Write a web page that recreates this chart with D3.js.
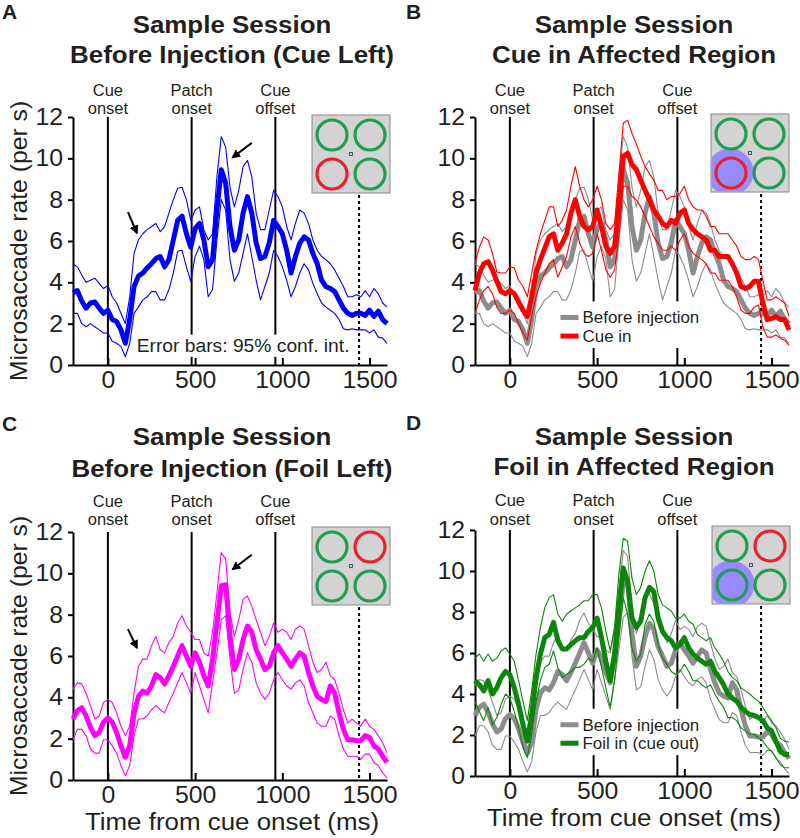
<!DOCTYPE html>
<html>
<head>
<meta charset="utf-8">
<script src="https://cdn.jsdelivr.net/npm/d3@7"></script>
<style>
  body { margin: 0; background: #fff; }
  text { font-family: "Liberation Sans", Arial, Helvetica, sans-serif; fill: #231f20; }
</style>
</head>
<body>
<script>
// time axis samples (ms from cue onset)
const times = [
  -200, -175, -150, -125, -100, -75, -50, -25,
  0, 25, 50, 75, 100, 125, 150, 175,
  200, 225, 250, 275, 300, 325, 350, 375,
  400, 425, 450, 475, 500, 525, 550, 575,
  600, 625, 650, 675, 700, 725, 750, 775,
  800, 825, 850, 875, 900, 925, 950, 975,
  1000, 1025, 1050, 1075, 1100, 1125, 1150, 1175,
  1200, 1225, 1250, 1275, 1300, 1325, 1350, 1375,
  1400, 1425, 1450, 1475, 1500, 1525, 1550, 1575,
  1600
];

// before injection, cue left (A, grey in B)
const cueBeforeMean = [
  3.5, 3.6, 3.1, 2.75, 3.0, 3.05, 2.75, 2.5,
  2.65, 2.2, 2.1, 1.7, 1.05, 2.2, 3.8, 4.3,
  4.45, 4.7, 4.9, 5.15, 5.25, 4.75, 5.1, 6.05,
  7.0, 7.2, 6.35, 5.7, 6.6, 6.85, 6.05, 4.75,
  5.1, 7.5, 9.45, 8.8, 6.7, 5.55, 6.05, 7.35,
  8.15, 7.35, 5.9, 5.15, 5.25, 5.9, 7.0, 6.7,
  6.35, 5.55, 4.45, 5.25, 5.9, 6.2, 6.05, 5.4,
  4.9, 4.1, 3.8, 3.7, 3.55, 3.15, 2.75, 2.5,
  2.4, 2.5, 2.5, 2.4, 2.65, 2.35, 2.6, 2.2,
  2.0
];
const cueBeforeUp = [
  4.9, 4.75, 4.35, 4.0, 4.1, 4.2, 3.95, 3.7,
  3.85, 3.3, 3.0, 2.5, 2.0, 3.3, 5.4, 6.05,
  6.35, 6.55, 6.7, 6.85, 6.45, 6.7, 7.35, 8.0,
  8.55, 8.6, 8.0, 7.0, 7.5, 7.65, 6.55, 6.05,
  6.35, 9.1, 11.05, 10.55, 8.6, 7.65, 8.45, 9.6,
  9.9, 9.1, 7.35, 6.55, 6.55, 7.5, 8.45, 8.15,
  7.65, 6.7, 6.05, 6.85, 7.5, 7.35, 6.85, 6.05,
  5.55, 5.25, 5.1, 4.9, 4.6, 4.2, 3.8, 3.3,
  3.3, 3.4, 3.3, 3.6, 3.3, 3.7, 3.45, 3.0,
  2.8
];
const cueBeforeLo = [
  2.5, 2.5, 2.0, 1.85, 2.0, 1.85, 1.7, 1.55,
  1.55, 1.15, 1.05, 0.9, 0.4, 1.05, 2.5, 2.8,
  3.15, 3.3, 3.55, 3.55, 3.15, 3.15, 3.65, 4.45,
  5.5, 5.55, 4.75, 4.05, 5.25, 5.75, 5.1, 3.3,
  3.65, 6.05, 8.0, 7.5, 5.1, 4.05, 4.45, 5.4,
  6.35, 5.25, 4.1, 3.15, 3.8, 4.45, 5.55, 5.25,
  4.75, 4.1, 3.3, 3.8, 4.45, 4.9, 4.6, 3.95,
  3.45, 3.0, 2.8, 2.65, 2.5, 2.2, 1.75, 1.7,
  1.75, 1.7, 1.7, 1.7, 1.55, 1.7, 1.35, 1.3,
  1.05
];

// cue in affected region (B, red)
const cueInMean = [
  3.6, 4.45, 4.9, 5.0, 4.6, 4.05, 3.55, 3.45,
  3.6, 3.45, 3.05, 2.65, 2.35, 3.3, 4.45, 5.1,
  5.65, 6.2, 6.35, 5.55, 5.9, 6.35, 7.35, 8.0,
  7.2, 6.7, 6.55, 6.7, 7.5, 6.7, 5.75, 5.4,
  5.75, 7.65, 10.1, 10.25, 9.7, 9.45, 8.95, 8.45,
  8.0, 7.5, 7.2, 6.85, 6.7, 7.0, 6.85, 7.35,
  7.5, 6.85, 6.55, 6.35, 6.2, 6.05, 5.55, 5.55,
  5.25, 5.25, 5.25, 4.9, 4.45, 3.8, 3.7, 3.8,
  4.05, 4.05, 3.0, 2.2, 2.25, 2.35, 2.2, 2.2,
  1.7
];
const cueInUp = [
  4.9, 5.7, 6.2, 6.05, 5.4, 4.5, 4.45, 4.45,
  4.75, 4.7, 4.1, 3.8, 3.3, 4.45, 5.55, 6.35,
  7.0, 7.65, 7.65, 6.7, 7.0, 7.5, 8.65, 9.6,
  8.65, 8.0, 7.65, 8.0, 8.65, 8.0, 6.85, 6.55,
  6.85, 9.25, 11.7, 11.85, 11.2, 10.7, 10.1, 9.6,
  9.25, 8.95, 8.45, 8.45, 8.0, 8.15, 8.15, 8.3,
  8.65, 8.0, 7.65, 7.5, 7.5, 7.2, 6.7, 6.7,
  6.35, 6.35, 6.35, 6.05, 5.75, 5.25, 5.1, 5.1,
  5.25, 5.1, 4.1, 3.15, 3.15, 3.3, 3.15, 3.0,
  2.35
];
const cueInLo = [
  2.5, 3.15, 3.6, 3.8, 3.45, 2.8, 2.5, 2.5,
  2.65, 2.5, 2.0, 1.55, 1.2, 2.35, 3.3, 3.95,
  4.45, 4.9, 5.1, 4.25, 4.75, 5.25, 6.2, 6.7,
  5.9, 5.4, 5.25, 5.4, 6.35, 5.55, 4.6, 4.25,
  4.6, 6.2, 8.65, 8.65, 8.15, 8.0, 7.65, 7.2,
  6.7, 6.2, 5.9, 5.55, 5.55, 5.75, 5.55, 6.05,
  6.35, 5.75, 5.4, 5.25, 5.1, 4.9, 4.45, 4.45,
  4.1, 4.1, 4.1, 3.8, 3.3, 2.65, 2.5, 2.5,
  2.8, 2.9, 1.85, 1.35, 1.35, 1.45, 1.3, 1.2,
  0.95
];

// before injection, foil left (C, grey in D)
const foilBeforeMean = [
  2.95, 3.35, 3.5, 3.1, 2.55, 2.15, 2.3, 2.8,
  3.0, 2.8, 2.3, 1.65, 1.1, 1.65, 3.25, 4.05,
  4.3, 4.2, 4.55, 5.1, 4.95, 4.65, 5.05, 5.5,
  6.0, 6.5, 6.0, 5.5, 6.15, 5.7, 5.05, 4.55,
  5.85, 7.6, 9.4, 9.45, 6.95, 5.35, 5.85, 6.8,
  7.45, 7.15, 6.3, 5.85, 5.35, 5.5, 6.15, 6.5,
  6.15, 5.85, 5.5, 5.85, 6.15, 6.0, 5.2, 4.55,
  4.05, 3.9, 3.8, 4.55, 4.2, 3.25, 2.45, 1.95,
  1.95, 1.9, 1.9, 2.15, 2.05, 1.65, 1.5, 1.15,
  0.85
];
const foilBeforeUp = [
  4.4, 4.7, 4.65, 4.2, 3.6, 2.95, 3.1, 3.75,
  3.9, 3.75, 3.25, 2.6, 2.15, 2.6, 4.2, 5.5,
  5.85, 5.85, 6.5, 6.95, 6.3, 6.15, 6.65, 6.95,
  7.6, 7.95, 7.45, 7.15, 6.8, 6.8, 6.15, 6.0,
  7.15, 9.05, 11.0, 10.7, 8.1, 6.95, 7.75, 8.75,
  8.9, 8.4, 7.75, 7.15, 6.5, 6.95, 7.6, 7.15,
  7.3, 7.15, 6.8, 7.3, 7.45, 7.3, 6.5, 5.7,
  5.2, 5.35, 5.7, 5.05, 4.85, 4.2, 3.4, 2.75,
  2.95, 2.75, 2.6, 2.95, 2.6, 2.45, 2.15, 1.8,
  1.3
];
const foilBeforeLo = [
  1.95, 2.45, 2.45, 2.15, 1.5, 1.3, 1.3, 1.95,
  1.95, 1.65, 1.3, 0.7, 0.2, 0.7, 2.15, 2.95,
  2.95, 3.1, 3.4, 3.6, 3.4, 3.25, 3.75, 4.2,
  4.7, 5.2, 4.7, 4.2, 5.2, 4.55, 3.9, 3.25,
  4.7, 6.15, 7.75, 7.95, 5.85, 4.2, 4.35, 5.35,
  6.15, 5.7, 4.7, 4.2, 3.9, 4.2, 4.85, 5.2,
  4.85, 4.55, 4.4, 4.7, 4.85, 4.55, 3.75, 3.25,
  2.75, 2.6, 2.6, 3.1, 2.95, 2.15, 1.5, 1.15,
  1.15, 1.15, 1.0, 1.25, 1.25, 0.85, 0.7, 0.35,
  0.1
];

// foil in affected region, cue out (D, green)
const foilInMean = [
  4.65, 4.45, 4.15, 4.65, 4.0, 4.3, 4.8, 5.1,
  4.95, 4.3, 3.5, 2.5, 1.7, 3.0, 4.8, 5.95,
  6.75, 6.9, 7.5, 6.6, 6.2, 6.2, 6.4, 6.6,
  6.75, 6.75, 7.05, 7.25, 7.7, 6.75, 5.6, 4.65,
  5.95, 8.2, 10.15, 9.5, 7.7, 7.25, 7.55, 8.7,
  9.2, 9.0, 7.7, 7.05, 6.75, 6.6, 6.25, 6.4,
  6.75, 6.25, 5.95, 5.75, 5.6, 5.45, 5.6, 5.1,
  4.8, 4.45, 4.0, 3.8, 3.65, 3.35, 3.15, 3.0,
  2.95, 2.85, 2.7, 2.35, 2.2, 1.7, 1.2, 1.05,
  1.05
];
const foilInUp = [
  5.75, 5.95, 5.6, 5.95, 5.6, 5.75, 6.1, 6.25,
  5.95, 5.6, 4.65, 3.65, 2.7, 4.15, 5.95, 7.25,
  8.2, 8.7, 8.85, 7.9, 7.55, 7.9, 8.05, 8.2,
  8.35, 8.55, 8.55, 8.85, 8.85, 8.2, 7.05, 6.1,
  7.25, 9.85, 11.6, 11.45, 9.65, 8.85, 9.2, 10.0,
  10.5, 10.0, 8.85, 8.35, 8.2, 8.05, 7.7, 7.7,
  7.9, 7.55, 7.4, 6.9, 6.75, 6.6, 6.75, 6.25,
  5.95, 5.6, 5.1, 4.8, 4.65, 4.3, 4.15, 4.0,
  3.8, 3.65, 3.35, 3.0, 2.7, 2.35, 1.85, 1.7,
  1.65
];
const foilInLo = [
  3.65, 3.15, 2.7, 3.35, 2.5, 2.85, 3.5, 4.0,
  3.8, 3.15, 2.35, 1.4, 0.9, 2.05, 3.65, 4.65,
  5.3, 5.45, 6.1, 5.3, 4.8, 4.95, 5.1, 5.3,
  5.3, 5.45, 5.75, 5.6, 6.25, 5.3, 4.3, 3.35,
  4.65, 6.75, 8.7, 7.9, 6.25, 5.6, 5.95, 7.4,
  7.9, 7.55, 6.4, 5.75, 5.45, 5.1, 4.95, 5.1,
  5.45, 5.1, 4.65, 4.65, 4.45, 4.3, 4.45, 4.0,
  3.65, 3.35, 2.85, 2.85, 2.7, 2.35, 2.2, 2.05,
  2.05, 1.85, 1.7, 1.4, 1.2, 0.9, 0.55, 0.4,
  0.4
];

// events and ticks
const eventTimes = [0, 480, 960];
const eventLabels = [["Cue", "onset"], ["Patch", "onset"], ["Cue", "offset"]];
const dottedTime = 1440;
const xTicks = [0, 500, 1000, 1500];
const yTicks = [0, 2, 4, 6, 8, 10, 12];

const W = 800, H = 838;
const plotW = 314;
const STRETCH = 1.08;   // the source lettering is a little wider than Arial

const svg = d3.select("body").append("svg")
  .attr("width", W)
  .attr("height", H)
  .style("display", "block");

svg.append("rect").attr("width", W).attr("height", H).attr("fill", "#fff");

svg.append("defs").append("marker")
  .attr("id", "arrowhead")
  .attr("viewBox", "0 0 10 10")
  .attr("refX", 8).attr("refY", 5)
  .attr("markerWidth", 4.5).attr("markerHeight", 4.5)
  .attr("orient", "auto")
  .append("path")
  .attr("d", "M0,0L10,5L0,10Z")
  .attr("fill", "#000");

const GREEN_RING = "#1e9e50", RED_RING = "#e8212b", AFFECTED = "#968cff";
const GREY = "#8c8c8c";

const panels = [
  {
    id: "A", left: 73, top: 117, bottom: 365,
    letter: [2, 19], titleY: [33, 63], eventY: [95.5, 113.5],
    title: ["Sample Session", "Before Injection (Cue Left)"],
    series: [{ mean: cueBeforeMean, up: cueBeforeUp, lo: cueBeforeLo, color: "#0000ff" }],
    inset: { x: 312, y: 115, red: 2, affected: false },
    ylabel: true, xlabel: false,
    note: "Error bars: 95% conf. int.",
    arrows: [[[115, 7.4], [166, 6.4]], [[825, 10.75], [716, 10.05]]]
  },
  {
    id: "B", left: 475, top: 117, bottom: 365,
    letter: [406, 19], titleY: [33, 63], eventY: [95.5, 113.5],
    title: ["Sample Session", "Cue in Affected Region"],
    series: [
      { mean: cueBeforeMean, up: cueBeforeUp, lo: cueBeforeLo, color: GREY },
      { mean: cueInMean, up: cueInUp, lo: cueInLo, color: "#ff0000" }
    ],
    inset: { x: 711, y: 114, red: 2, affected: true },
    ylabel: false, xlabel: false,
    legend: { t: 290, v: [2.3, 1.4], labels: ["Before injection", "Cue in"] }
  },
  {
    id: "C", left: 73, top: 532, bottom: 780,
    letter: [2, 431], titleY: [445, 477], eventY: [507, 525],
    title: ["Sample Session", "Before Injection (Foil Left)"],
    series: [{ mean: foilBeforeMean, up: foilBeforeUp, lo: foilBeforeLo, color: "#ff00ff" }],
    inset: { x: 312, y: 527, red: 1, affected: false },
    ylabel: true, xlabel: true,
    arrows: [[[115, 7.3], [166, 6.4]], [[825, 10.9], [716, 10.2]]]
  },
  {
    id: "D", left: 475, top: 530, bottom: 776,
    letter: [406, 430], titleY: [445, 475], eventY: [506, 524.5],
    title: ["Sample Session", "Foil in Affected Region"],
    series: [
      { mean: foilBeforeMean, up: foilBeforeUp, lo: foilBeforeLo, color: GREY },
      { mean: foilInMean, up: foilInUp, lo: foilInLo, color: "#0a860a" }
    ],
    inset: { x: 712, y: 526, red: 1, affected: true },
    ylabel: false, xlabel: true,
    legend: { t: 290, v: [2.5, 1.6], labels: ["Before injection", "Foil in (cue out)"] }
  }
];

// text placed with a slight horizontal stretch
function label(parent, x, y, str, size, opts = {}) {
  const sx = opts.sx || STRETCH;
  return parent.append("text")
    .attr("transform", `translate(${x},${y}) scale(${sx},1)`)
    .attr("text-anchor", opts.anchor || "start")
    .attr("font-size", size)
    .attr("font-weight", opts.bold ? "bold" : null)
    .text(str);
}

function drawInset(g, box, id) {
  const s = 78;
  const ring = [[20, 20], [58, 20], [20, 59], [58, 59]];
  g.append("rect")
    .attr("x", box.x).attr("y", box.y)
    .attr("width", s).attr("height", s)
    .attr("fill", "#d3d3d3")
    .attr("stroke", "#8a8a8a")
    .attr("stroke-width", 1);
  if (box.affected) {
    g.append("clipPath").attr("id", "clip" + id)
      .append("rect")
      .attr("x", box.x + 0.5).attr("y", box.y + 0.5)
      .attr("width", s - 1).attr("height", s - 1);
    g.append("circle")
      .attr("clip-path", `url(#clip${id})`)
      .attr("cx", box.x + ring[2][0] - 1).attr("cy", box.y + ring[2][1] - 1)
      .attr("r", 23.5)
      .attr("fill", AFFECTED);
  }
  ring.forEach((c, i) => {
    g.append("circle")
      .attr("cx", box.x + c[0]).attr("cy", box.y + c[1])
      .attr("r", 15)
      .attr("fill", "none")
      .attr("stroke", i === box.red ? RED_RING : GREEN_RING)
      .attr("stroke-width", 3.2);
  });
  g.append("rect")
    .attr("x", box.x + 37.5).attr("y", box.y + 37.5)
    .attr("width", 3).attr("height", 3)
    .attr("fill", "none").attr("stroke", "#333").attr("stroke-width", 0.8);
}

function drawPanel(p) {
  const x = d3.scaleLinear().domain([-200, 1600]).range([p.left, p.left + plotW]);
  const y = d3.scaleLinear().domain([0, 12]).range([p.bottom, p.top]);
  const cx = p.left + plotW / 2 + 2;

  const g = svg.append("g");
  const back = g.append("g");
  const boxes = g.append("g");
  const dataG = g.append("g");
  const front = g.append("g");

  // panel letter and title
  label(front, p.letter[0], p.letter[1], p.id, 21, { bold: true, sx: 1 });
  p.title.forEach((t, i) => label(front, cx, p.titleY[i], t, 24, { bold: true, anchor: "middle" }));

  // event markers
  eventTimes.forEach((e, i) => {
    back.append("line")
      .attr("x1", x(e)).attr("x2", x(e))
      .attr("y1", y(12)).attr("y2", y(0))
      .attr("stroke", "#000").attr("stroke-width", 2);
    eventLabels[i].forEach((s, j) => label(front, x(e), p.eventY[j], s, 16, { anchor: "middle", sx: 1.03 }));
  });
  back.append("line")
    .attr("x1", x(dottedTime)).attr("x2", x(dottedTime))
    .attr("y1", p.inset.y + 80).attr("y2", y(0))
    .attr("stroke", "#000").attr("stroke-width", 2)
    .attr("stroke-dasharray", "3,3");

  // axes
  const yAxis = back.append("g")
    .attr("transform", `translate(${p.left},0)`)
    .call(d3.axisLeft(y).tickValues(yTicks).tickSize(5).tickSizeOuter(0).tickPadding(5));
  yAxis.attr("font-size", 23).attr("font-family", null);
  yAxis.selectAll("path, line").attr("stroke", "#000").attr("stroke-width", 2);
  yAxis.selectAll("text").attr("transform", `scale(${STRETCH},1)`).attr("x", -10 / STRETCH);

  const xAxis = back.append("g")
    .attr("transform", `translate(0,${p.bottom})`)
    .call(d3.axisBottom(x).tickValues(xTicks).tickFormat(d3.format("d"))
      .tickSize(-7).tickSizeOuter(0).tickPadding(7));
  xAxis.attr("font-size", 23).attr("font-family", null);
  xAxis.selectAll("path, line").attr("stroke", "#000").attr("stroke-width", 2);
  xAxis.selectAll("text").attr("transform", `scale(${STRETCH},1)`);

  if (p.ylabel) {
    front.append("text")
      .attr("transform", `translate(27,${(p.top + p.bottom) / 2}) rotate(-90) scale(1.03,1)`)
      .attr("text-anchor", "middle")
      .attr("font-size", 24)
      .text("Microsaccade rate (per s)");
  }
  if (p.xlabel) {
    label(front, cx, p.bottom + 50, "Time from cue onset (ms)", 24, { anchor: "middle" });
  }

  // curves: thin lines are the 95% bounds, thick line the mean
  const line = d3.line().x((d, i) => x(times[i])).y(d => y(d));
  p.series.forEach(s => {
    [s.lo, s.up].forEach(arr => {
      dataG.append("path")
        .attr("d", line(arr))
        .attr("fill", "none")
        .attr("stroke", s.color)
        .attr("stroke-width", 1.1)
        .attr("stroke-linejoin", "round");
    });
    dataG.append("path")
      .attr("d", line(s.mean))
      .attr("fill", "none")
      .attr("stroke", s.color)
      .attr("stroke-width", 5)
      .attr("stroke-linejoin", "round");
  });

  if (p.note) {
    const nx = x(165), ny = y(0) - 13, sx = 1.07;
    const t = label(front, nx, ny, p.note, 18, { sx });
    const bb = t.node().getBBox();
    boxes.append("rect")
      .attr("x", nx + bb.x * sx - 2).attr("y", ny + bb.y - 1)
      .attr("width", bb.width * sx + 4).attr("height", bb.height + 2)
      .attr("fill", "#fff");
  }

  if (p.legend) {
    const lx = x(p.legend.t), sx = 1.06;
    let maxRight = lx;
    p.legend.labels.forEach((lab, i) => {
      const ly = y(p.legend.v[i]);
      front.append("line")
        .attr("x1", lx).attr("x2", lx + 18)
        .attr("y1", ly).attr("y2", ly)
        .attr("stroke", p.series[i].color)
        .attr("stroke-width", 5);
      const t = label(front, lx + 22, ly + 6, lab, 16, { sx });
      const bb = t.node().getBBox();
      maxRight = Math.max(maxRight, lx + 22 + (bb.x + bb.width) * sx);
    });
    const y1 = y(p.legend.v[0]) - 16, y2 = y(p.legend.v[1]) + 12;
    boxes.append("rect")
      .attr("x", lx - 4).attr("y", y1)
      .attr("width", maxRight - lx + 6).attr("height", y2 - y1)
      .attr("fill", "#fff");
  }

  if (p.arrows) {
    p.arrows.forEach(a => {
      front.append("line")
        .attr("x1", x(a[0][0])).attr("y1", y(a[0][1]))
        .attr("x2", x(a[1][0])).attr("y2", y(a[1][1]))
        .attr("stroke", "#000").attr("stroke-width", 2)
        .attr("marker-end", "url(#arrowhead)");
    });
  }

  drawInset(front, p.inset, p.id);
}

panels.forEach(drawPanel);
</script>
</body>
</html>
